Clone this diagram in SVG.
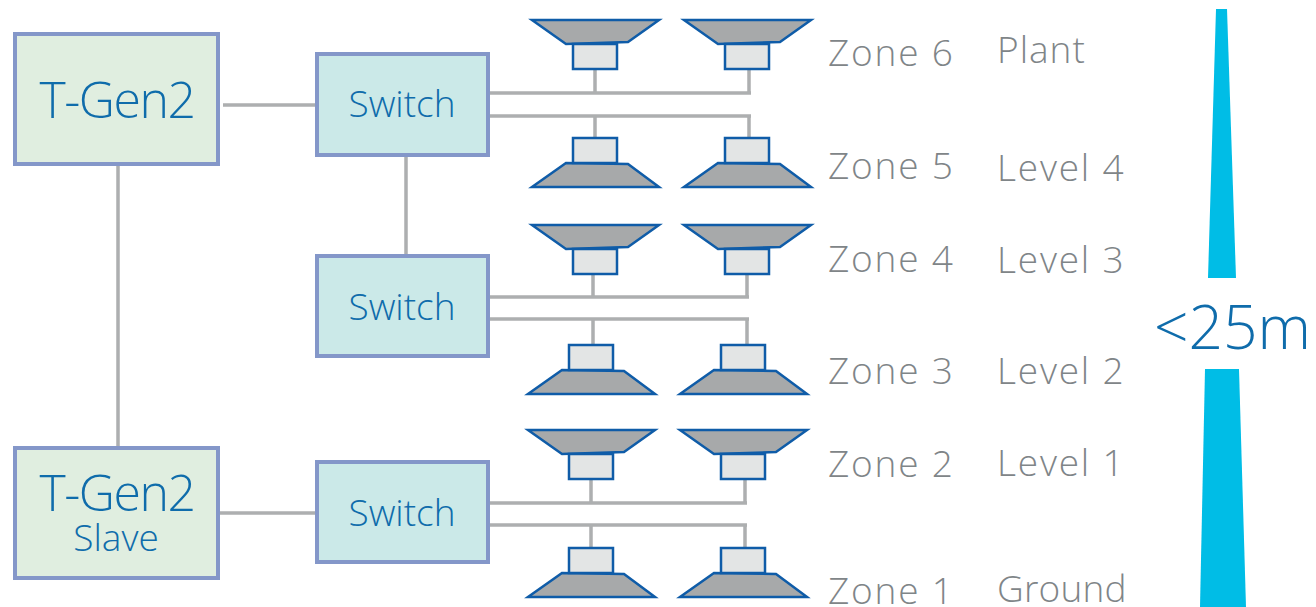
<svg xmlns="http://www.w3.org/2000/svg" xmlns:xlink="http://www.w3.org/1999/xlink" width="1316" height="607" viewBox="0 0 1316 607">
<style>
text{font-family:"Open Sans","Noto Sans","Liberation Sans",sans-serif;font-weight:300}
.box{stroke:#8497c9;stroke-width:4}
.gen{fill:#e0eee0}
.sw{fill:#cbe9e8}
.blue{fill:#0f6cab}
.grey{fill:#7f8588}
.wire{stroke:#adafb0;stroke-width:3.5;fill:none}
.horn{fill:#a7a9aa;stroke:#0f5ca8;stroke-width:2.5;stroke-linejoin:miter}
.mag{fill:#e3e5e5;stroke:#0f5ca8;stroke-width:2.5}
.bar{fill:#00bde6}
.z{letter-spacing:1.8px}
.l{letter-spacing:1.8px}
</style>
<defs>
<g id="spkDown"><path class="horn" d="M-63 -24H64L33 -2 -29 0Z"/><rect class="mag" x="-22" y="0" width="44" height="25"/></g>
<g id="spkUp"><path class="horn" d="M-63 24H64L33 1 -29 0Z"/><rect class="mag" x="-22" y="-25" width="44" height="25"/></g>
</defs>
<g id="connectors" class="wire">
<path d="M223 105H316M118 165V447M406 155V255M220 513H316"/>
<path d="M490 93H751M595 69V93M749 69V93M490 116H751M595 116V138M749 116V138"/>
<path d="M490 297H749M593 274V297M747 274V297M490 319H749M593 319V345M747 319V345"/>
<path d="M490 503H747M591 479V503M745 479V503M490 525H747M591 525V548M745 525V548"/>
</g>
<g id="tgen2"><rect class="box gen" x="15" y="34" width="203" height="130"/><text class="blue" x="117" y="118" font-size="50" letter-spacing="-1.5" text-anchor="middle">T-Gen2</text></g>
<g id="tgen2-slave"><rect class="box gen" x="15" y="448" width="203" height="130"/><text class="blue" x="117" y="511" font-size="50" letter-spacing="-1.5" text-anchor="middle">T-Gen2</text><text class="blue" x="116" y="551" font-size="37" text-anchor="middle">Slave</text></g>
<g id="switch1"><rect class="box sw" x="317" y="54" width="171" height="101"/><text class="blue" x="402" y="117" font-size="37" text-anchor="middle">Switch</text></g>
<g id="switch2"><rect class="box sw" x="317" y="256" width="171" height="100"/><text class="blue" x="402" y="320" font-size="37" text-anchor="middle">Switch</text></g>
<g id="switch3"><rect class="box sw" x="317" y="462" width="171" height="100"/><text class="blue" x="402" y="526" font-size="37" text-anchor="middle">Switch</text></g>
<g id="zone6-speakers"><use href="#spkDown" x="595" y="44"/><use href="#spkDown" x="747" y="44"/></g>
<g id="zone5-speakers"><use href="#spkUp" x="595" y="163"/><use href="#spkUp" x="747" y="163"/></g>
<g id="zone4-speakers"><use href="#spkDown" x="595" y="249"/><use href="#spkDown" x="747" y="249"/></g>
<g id="zone3-speakers"><use href="#spkUp" x="591" y="370"/><use href="#spkUp" x="743" y="370"/></g>
<g id="zone2-speakers"><use href="#spkDown" x="591" y="454"/><use href="#spkDown" x="743" y="454"/></g>
<g id="zone1-speakers"><use href="#spkUp" x="591" y="573"/><use href="#spkUp" x="743" y="573"/></g>
<g id="zones" class="grey" font-size="37">
<text class="z" x="828" y="66">Zone 6</text><text class="z" x="828" y="179">Zone 5</text><text class="z" x="828" y="272">Zone 4</text><text class="z" x="828" y="384">Zone 3</text><text class="z" x="828" y="477">Zone 2</text><text class="z" x="828" y="604">Zone 1</text>
<text x="997" y="63" letter-spacing="1">Plant</text><text class="l" x="997" y="181">Level 4</text><text class="l" x="997" y="273">Level 3</text><text class="l" x="997" y="384">Level 2</text><text class="l" x="997" y="476">Level 1</text><text x="997" y="602" letter-spacing="0.2">Ground</text>
</g>
<g id="height">
<path class="bar" d="M1216 9H1227L1236 278H1208Z"/><path class="bar" d="M1205 369H1239L1246 607H1200Z"/>
<text class="blue" x="1154" y="349" font-size="60.5">&lt;25m</text>
</g>
</svg>
